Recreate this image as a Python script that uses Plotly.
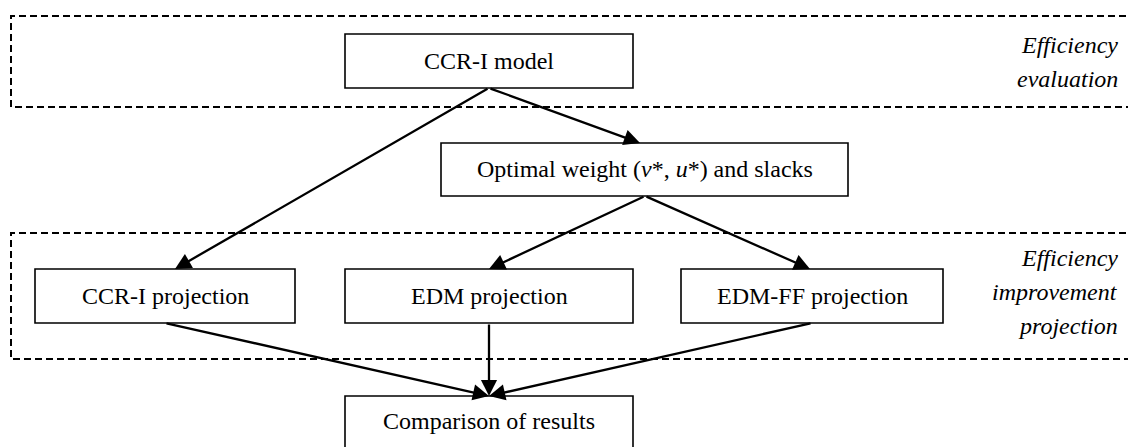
import plotly.graph_objects as go

# ---- content ----
node_labels = [
    "CCR-I model",
    "Optimal weight (<i>v</i>*, <i>u</i>*) and slacks",
    "CCR-I projection",
    "EDM projection",
    "EDM-FF projection",
    "Comparison of results",
]
region_labels = [
    ["Efficiency", "evaluation"],
    ["Efficiency", "improvement", "projection"],
]
edges = [(0, 1), (0, 2), (1, 3), (1, 4), (2, 5), (3, 5), (4, 5)]

# ---- layout geometry (pixel space) ----
W, H = 1128, 447
boxes = [
    (345, 34, 633, 88),
    (441, 143, 848, 196),
    (35, 269, 295, 323),
    (345, 269, 633, 323),
    (681, 269, 943, 323),
    (345, 396, 633, 470),
]
# anchor points for edges (tail, head)
edge_pts = {
    (0, 1): ((489, 88), (640, 143)),
    (0, 2): ((489, 88), (175, 269)),
    (1, 3): ((645, 196), (489, 269)),
    (1, 4): ((645, 196), (810, 269)),
    (2, 5): ((165, 323), (489, 396)),
    (3, 5): ((489, 323), (489, 396)),
    (4, 5): ((812, 323), (489, 396)),
}
regions = [(11, 16, 107), (11, 233, 359)]
region_text_y = [[45, 79], [258, 292, 326]]
text_y = [61, 169, 296, 296, 296, 421]

FONT = "Times New Roman, Liberation Serif, serif"
FS = 24

fig = go.Figure()
shapes = []
annotations = []

for (x0, top, bot) in regions:
    shapes.append(dict(type="path",
                       path=f"M {W+20},{top} L {x0},{top} L {x0},{bot} L {W+20},{bot}",
                       line=dict(color="black", width=2, dash="7px,4px"),
                       xref="x", yref="y"))

for i, (x0, y0, x1, y1) in enumerate(boxes):
    shapes.append(dict(type="rect", x0=x0, y0=y0, x1=x1, y1=y1,
                       line=dict(color="black", width=1.6),
                       fillcolor="white", xref="x", yref="y", layer="above"))
    annotations.append(dict(x=(x0 + x1) / 2, y=text_y[i], text=node_labels[i],
                            showarrow=False, xref="x", yref="y",
                            font=dict(family=FONT, size=FS, color="black"),
                            xanchor="center", yanchor="middle"))

for e in edges:
    (tx, ty), (hx, hy) = edge_pts[e]
    annotations.append(dict(x=hx, y=hy, ax=tx, ay=ty, xref="x", yref="y",
                            axref="x", ayref="y", text="", showarrow=True,
                            arrowhead=2, arrowsize=1.4, arrowwidth=2.3,
                            arrowcolor="black", standoff=0, startstandoff=0))

for lines, ys in zip(region_labels, region_text_y):
    for t, y in zip(lines, ys):
        annotations.append(dict(x=1120, y=y, text=f"<i>{t}</i>", showarrow=False,
                                xref="x", yref="y", xanchor="right", yanchor="middle",
                                font=dict(family=FONT, size=FS, color="black")))

fig.update_layout(
    width=W, height=H,
    margin=dict(l=0, r=0, t=0, b=0),
    paper_bgcolor="white", plot_bgcolor="white",
    xaxis=dict(range=[0, W], visible=False, fixedrange=True),
    yaxis=dict(range=[H, 0], visible=False, fixedrange=True),
    shapes=shapes, annotations=annotations, showlegend=False,
    hovermode=False,
)
fig.write_html("out.html", config={"displayModeBar": False, "staticPlot": True},
               post_script="document.body.style.margin='0px';document.body.style.overflow='hidden';")
